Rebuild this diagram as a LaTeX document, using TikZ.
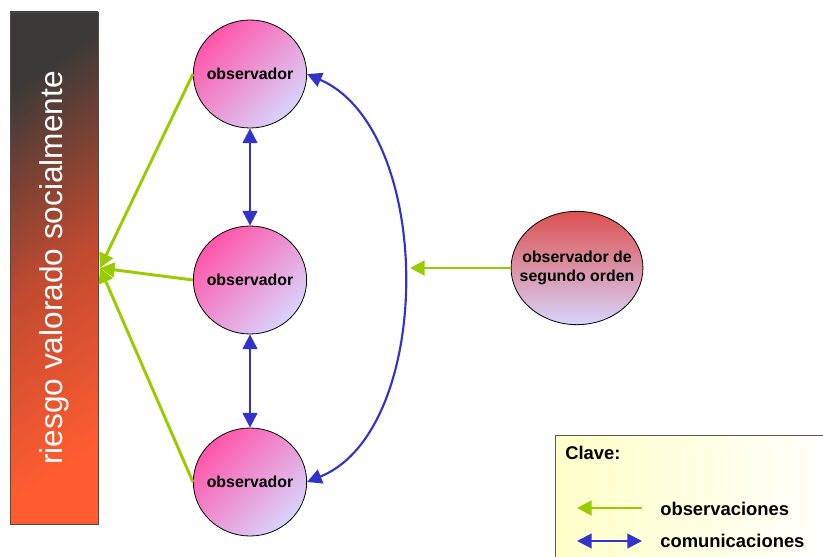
\documentclass[tikz,border=0pt]{standalone}
\usepackage{fontspec}
\setmainfont{Liberation Sans}
\usetikzlibrary{arrows.meta,shapes.geometric}

\definecolor{obsgreen}{HTML}{99CC00}
\definecolor{comblue}{HTML}{3333CC}
\definecolor{obspink}{HTML}{FF55AA}
\definecolor{obslav}{HTML}{D8D4FC}
\definecolor{secred}{HTML}{DC5050}
\definecolor{bardark}{HTML}{3C3A38}
\definecolor{barmid}{HTML}{C04A30}
\definecolor{barorange}{HTML}{FF5C30}
\definecolor{keyyellow}{HTML}{FFFFC8}

\begin{document}
\begin{tikzpicture}[
  x=0.75pt, y=-0.75pt,
  >={Triangle[length=11pt,width=11pt]},
  obs/.style={draw=obsgreen, line width=2.2pt, ->},
  com/.style={draw=comblue, line width=1.6pt, <->},
  observer/.style={draw, ellipse, line width=0.6pt, inner xsep=-8pt, inner ysep=0pt,
    minimum width=85pt, minimum height=81pt,
    top color=obspink, bottom color=obslav, shading angle=45,
    font=\bfseries\fontsize{11.9}{14}\selectfont, align=center},
  second/.style={observer, minimum width=97pt, minimum height=85pt,
    top color=secred, bottom color=obslav},
  riskbar/.style={draw=black!70, line width=0.6pt, rotate=90,
    minimum width=384pt, minimum height=66pt,
    top color=bardark, bottom color=barorange, middle color=barmid, shading angle=35,
    text=white, font=\fontsize{23.7}{28}\selectfont},
  keytext/.style={anchor=west, inner sep=0pt, font=\bfseries\fontsize{13.8}{16}\selectfont},
]

\useasboundingbox (0,0) rectangle (823,556);

% la barra del riesgo
\node[riskbar] (riesgo) at (54,268) {riesgo valorado socialmente};
\coordinate (hit) at (100,268);

% observadores
\node[observer] (otop) at (250,74)  {observador};
\node[observer] (omid) at (250,280) {observador};
\node[observer] (obot) at (250,482) {observador};

\node[second] (segundo) at (577,268) {observador de\\segundo orden};
\coordinate (look) at (410,268);

% observaciones
\draw[obs] (otop.west) -- (hit);
\draw[obs] (omid.west) -- (hit);
\draw[obs] (obot.west) -- (hit);
\draw[obs] (segundo.west) -- (look);

% comunicaciones
\draw[com] (otop.south) -- (omid.north);
\draw[com] (omid.south) -- (obot.north);
\draw[com] (otop.east) .. controls (435,130) and (435,430) .. (obot.east);

% clave
\draw[draw=black!65, line width=0.6pt, left color=keyyellow, right color=white]
  (555,435) rectangle (840,570);
\node[keytext] (clave) at (565,453) {Clave:};
\coordinate (gA) at (577,508);
\coordinate (gB) at (642,508);
\coordinate (bA) at (577,541);
\coordinate (bB) at (642,541);
\draw[obs] (gB) -- (gA);
\draw[com] (bA) -- (bB);
\node[keytext] (kobs) at (660,509) {observaciones};
\node[keytext] (kcom) at (660,541) {comunicaciones};

\end{tikzpicture}
\end{document}
